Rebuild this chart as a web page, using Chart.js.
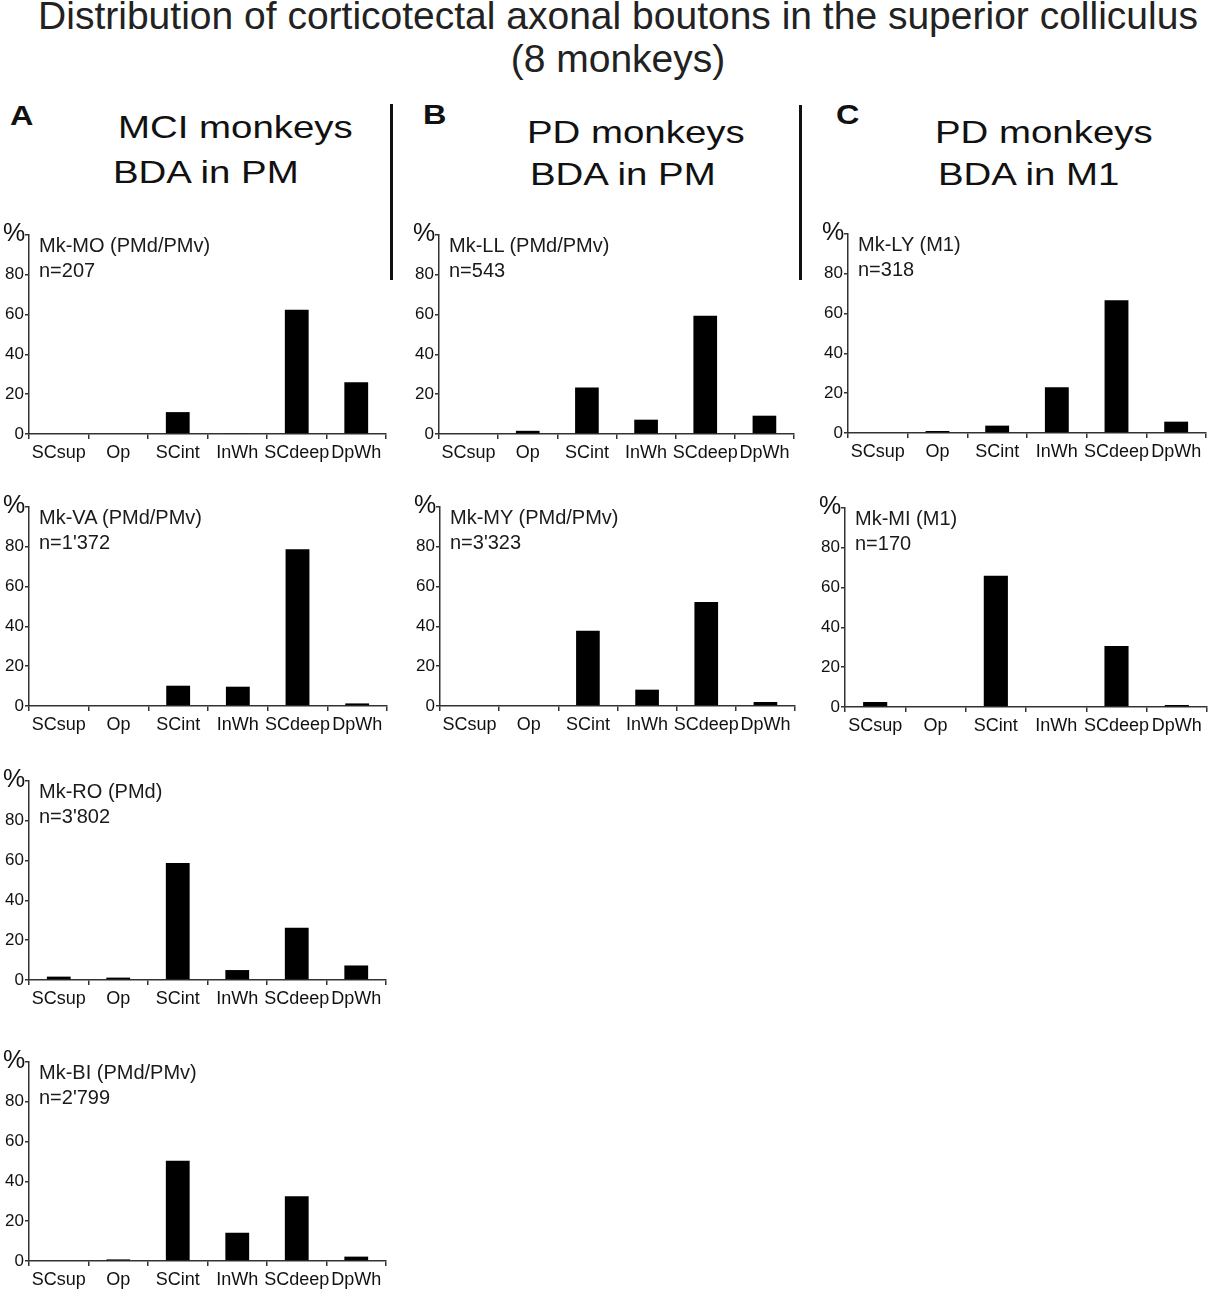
<!DOCTYPE html>
<html lang="en">
<head>
    <meta charset="UTF-8">
    <title>Distribution of corticotectal axonal boutons in the superior colliculus</title>
    <script src="https://cdn.jsdelivr.net/npm/chart.js"></script>
    <style>
        body {
            margin: 0;
            background: #fff;
            font-family: "Liberation Sans", Arial, sans-serif;
            color: #111;
        }

        #page {
            position: relative;
            width: 1212px;
            height: 1300px;
            overflow: hidden;
        }

        .abs {
            position: absolute;
            white-space: nowrap;
            line-height: 1;
        }

        .title {
            font-size: 39px;
            color: #222;
            width: 1212px;
            left: 12px;
            text-align: center;
        }

        .letter {
            font-size: 27px;
            font-weight: bold;
            transform: scaleX(1.2);
            transform-origin: left top;
        }

        .head {
            font-size: 32px;
            transform: scaleX(1.2);
            transform-origin: left top;
        }

        .divider {
            position: absolute;
            width: 3px;
            background: #111;
        }

        .panel {
            position: absolute;
        }

        .panel .lbl {
            position: absolute;
            left: 39px;
            font-size: 20px;
            line-height: 1;
            white-space: nowrap;
            color: #1a1a1a;
        }

        .panel .unit {
            position: absolute;
            left: 3px;
            font-size: 25px;
            line-height: 1;
            color: #111;
        }
    </style>
</head>
<body>
<div id="page">
    <div class="abs title" style="top:-4px;">Distribution of corticotectal axonal boutons in the superior colliculus</div>
    <div class="abs title" style="top:39px;">(8 monkeys)</div>

    <div class="abs letter" style="left:10px; top:103px;">A</div>
    <div class="abs letter" style="left:423px; top:102px;">B</div>
    <div class="abs letter" style="left:836px; top:102px;">C</div>

    <div class="abs head" style="left:118px; top:111px;">MCI monkeys</div>
    <div class="abs head" style="left:113px; top:156px;">BDA in PM</div>
    <div class="abs head" style="left:527px; top:116px;">PD monkeys</div>
    <div class="abs head" style="left:530px; top:158px;">BDA in PM</div>
    <div class="abs head" style="left:935px; top:116px;">PD monkeys</div>
    <div class="abs head" style="left:938px; top:158px;">BDA in M1</div>

    <div class="divider" style="left:390px; top:104px; height:176px;"></div>
    <div class="divider" style="left:799px; top:105px; height:175px;"></div>
</div>

<script>
    // layers of the superior colliculus (x axis)
    const categories = ['SCsup', 'Op', 'SCint', 'InWh', 'SCdeep', 'DpWh'];

    // y axis: 0..100 in steps of 20, the top tick carries the unit instead of a number
    const yMax = 100;
    const yStep = 20;
    const yUnit = '%';

    // percentage of boutons per layer, one array per monkey
    const mkMO = [0, 0, 11, 0.3, 62.5, 26];
    const mkVA = [0, 0, 10.2, 9.7, 78.8, 1.3];
    const mkRO = [1.7, 1.2, 58.8, 5, 26.2, 7.3];
    const mkBI = [0, 0.8, 50.4, 14.2, 32.5, 2.2];
    const mkLL = [0, 1.6, 23.4, 7.2, 59.4, 9.2];
    const mkMY = [0, 0, 37.8, 8.2, 52.3, 2];
    const mkLY = [0, 1, 3.7, 23, 66.7, 5.7];
    const mkMI = [2.5, 0, 66, 0, 30.7, 1];

    const names = ['Mk-MO (PMd/PMv)', 'Mk-VA (PMd/PMv)', 'Mk-RO (PMd)', 'Mk-BI (PMd/PMv)',
                   'Mk-LL (PMd/PMv)', 'Mk-MY (PMd/PMv)', 'Mk-LY (M1)', 'Mk-MI (M1)'];
    const counts = ["n=207", "n=1'372", "n=3'802", "n=2'799", "n=543", "n=3'323", "n=318", "n=170"];
    const series = [mkMO, mkVA, mkRO, mkBI, mkLL, mkMY, mkLY, mkMI];

    // where each small chart sits: y-axis x, right end of x-axis, y of the zero line
    const layout = [
        { axisX: 29, right: 386, zeroY: 434 },
        { axisX: 29, right: 387, zeroY: 706 },
        { axisX: 29, right: 386, zeroY: 980 },
        { axisX: 29, right: 386, zeroY: 1261 },
        { axisX: 439, right: 794, zeroY: 434 },
        { axisX: 440, right: 795, zeroY: 706 },
        { axisX: 848, right: 1206, zeroY: 433 },
        { axisX: 845, right: 1207, zeroY: 707 }
    ];

    const FONT = '"Liberation Sans", Arial, sans-serif';
    const AXIS_W = 29;   // room left of the y axis
    const TOP = 16;      // room above the 100 line
    const PLOT_H = 199;  // 0..100
    const X_H = 35;      // room under the x axis

    const page = document.getElementById('page');

    function addText(box, cls, top, text) {
        const d = document.createElement('div');
        d.className = cls;
        d.style.top = top + 'px';
        d.textContent = text;
        box.appendChild(d);
    }

    function makePanel(i) {
        const pos = layout[i];
        const w = pos.right - pos.axisX + AXIS_W + 6;
        const h = TOP + PLOT_H + X_H;

        const box = document.createElement('div');
        box.className = 'panel';
        box.style.left = (pos.axisX - AXIS_W) + 'px';
        box.style.top = (pos.zeroY - TOP - PLOT_H) + 'px';
        box.style.width = w + 'px';
        box.style.height = h + 'px';

        const canvas = document.createElement('canvas');
        canvas.width = w;
        canvas.height = h;
        box.appendChild(canvas);

        addText(box, 'unit', TOP - 15, yUnit);
        addText(box, 'lbl', TOP + PLOT_H - 182 - 17, names[i]);
        addText(box, 'lbl', TOP + PLOT_H - 157 - 17, counts[i]);

        page.appendChild(box);

        new Chart(canvas.getContext('2d'), {
            type: 'bar',
            data: {
                labels: categories,
                datasets: [{
                    data: series[i],
                    backgroundColor: '#000',
                    borderWidth: 0,
                    barPercentage: 0.4,
                    categoryPercentage: 1.0
                }]
            },
            options: {
                responsive: false,
                animation: false,
                layout: { padding: { top: TOP, right: 6, left: 0, bottom: 0 } },
                plugins: {
                    legend: { display: false },
                    tooltip: { enabled: false }
                },
                scales: {
                    x: {
                        offset: true,
                        grid: {
                            offset: true,
                            drawOnChartArea: false,
                            drawTicks: true,
                            tickLength: 5,
                            color: '#333',
                            lineWidth: 1.5
                        },
                        border: { display: true, color: '#333', width: 1.5 },
                        ticks: {
                            color: '#111',
                            font: { family: FONT, size: 18 },
                            padding: 3,
                            maxRotation: 0,
                            minRotation: 0,
                            autoSkip: false
                        },
                        afterFit: s => { s.height = X_H; }
                    },
                    y: {
                        min: 0,
                        max: yMax,
                        grid: {
                            drawOnChartArea: false,
                            tickLength: 4,
                            color: '#333',
                            lineWidth: 1.5
                        },
                        border: { display: true, color: '#333', width: 1.5 },
                        ticks: {
                            stepSize: yStep,
                            color: '#111',
                            padding: 1,
                            font: { family: FONT, size: 17 },
                            callback: v => v === yMax ? '' : v
                        },
                        afterFit: s => { s.width = AXIS_W; }
                    }
                }
            }
        });
    }

    series.forEach((_, i) => makePanel(i));
</script>
</body>
</html>
